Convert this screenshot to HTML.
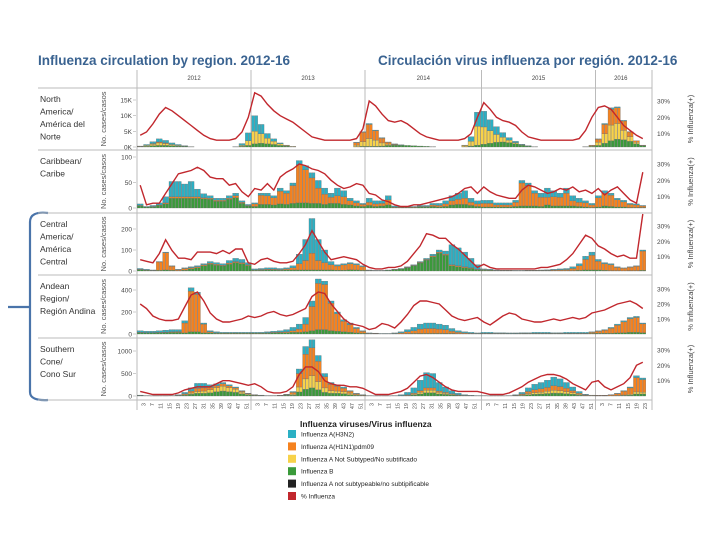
<!DOCTYPE html>
<html><head><meta charset="utf-8">
<style>
html,body{margin:0;padding:0;background:#fff;}
svg{display:block;font-family:"Liberation Sans",sans-serif;}
</style></head>
<body>
<svg id="c" width="720" height="540" viewBox="0 0 720 540">
<text x="38" y="65" font-size="13.5" font-weight="bold" fill="#3a6391">Influenza circulation by region. 2012-16</text>
<text x="378" y="65" font-size="13.5" font-weight="bold" fill="#3a6391">Circulación virus influenza por región. 2012-16</text>
<path d="M48,213 Q30,211 30,222 L30,392 Q30,401 48,400 M30,307 L8,307" fill="none" stroke="#4a74aa" stroke-width="2.2"/>
<g id="grid"></g>
<g id="plots"></g>
<g id="legend">
<text x="300" y="427" font-size="8.5" font-weight="bold" fill="#222">Influenza viruses/Virus influenza</text>
</g>
</svg>
<script>
const categories = ["North America/América del Norte","Caribbean/Caribe","Central America/América Central","Andean Region/Región Andina","Southern Cone/Cono Sur"];
const years = ["2012","2013","2014","2015","2016"];
const weekTicks = [3,7,11,15,19,23,27,31,35,39,43,47,51];

const naH3 = [0.1,0.3,0.6,1.0,0.8,0.5,0.3,0.1,0,0,0,0,0,0,0,0.1,0.6,2.5, 5,3,1.5,0.8,0.3,0.1,0,0,0,0,0,0,0,0,0,0,0.1,0.2, 0.3,0.2,0.2,0.1,0.1,0.1,0,0,0,0,0,0,0,0,0,0.1,1.5,4.5, 5,3.5,2.5,1.5,0.8,0.4,0.2,0.1,0,0,0,0,0,0,0,0,0, 0,0.1,0.3,0.5,0.3,0.2,0.1,0,0];
const naH1 = [0,0,0.2,0.3,0.2,0,0,0,0,0,0,0,0,0,0,0,0,0, 0,0,0,0,0,0,0,0,0,0,0,0,0,0,0,0,0.8,3, 4.5,3,1.5,0.6,0.2,0,0,0,0,0,0,0,0,0,0,0,0,0, 0,0,0,0,0,0,0,0,0,0,0,0,0,0,0,0,0, 0.2,1,3,5,5,3,1.5,0.5,0.1];
const naNS = [0.1,0.3,0.5,0.8,0.6,0.4,0.2,0.1,0,0,0,0,0,0,0,0,0.3,1.5, 4,3,1.8,1,0.5,0.2,0.1,0,0,0,0,0,0,0,0,0,0.5,1.5, 2.5,2,1,0.4,0.1,0,0,0,0,0,0,0,0,0,0,0.4,1.5,6, 5.5,4,2.5,1.5,0.8,0.4,0.1,0,0,0,0,0,0,0,0,0,0, 0.2,1,3,5,5,3,1.5,0.5,0.1];
const naB = [0.1,0.2,0.4,0.5,0.5,0.4,0.3,0.2,0.1,0,0,0,0,0,0,0,0.2,0.5, 1,1.2,1,0.8,0.5,0.3,0.1,0,0,0,0,0,0,0,0,0,0.1,0.2, 0.2,0.2,0.3,0.5,0.6,0.6,0.5,0.4,0.3,0.2,0.1,0,0,0,0,0.1,0.3,0.6, 0.9,1.2,1.5,1.6,1.4,1,0.6,0.3,0.1,0,0,0,0,0,0,0,0.1, 0.2,0.5,1.2,2,2.5,2.3,1.8,1,0.4];
const naPct = [9,11,16,22,26,24,21,18,15,12,9,7,6,6,6,7,11,20, 35,33,28,24,21,19,17,14,11,8,7,6,6,6,6,6,7,13, 30,27,22,18,17,18,16,13,10,8,7,6,6,6,6,7,10,20, 29,25,20,18,17,15,11,8,7,6,6,6,6,6,6,7,12, 20,26,27,25,20,15,12,9,7];

const cbH3 = [3,1,2,4,12,30,30,25,30,15,8,5,4,4,5,5,3,2, 2,4,5,4,6,5,5,8,8,10,15,12,8,15,12,5,4,2, 8,6,5,8,2,1,1,1,2,2,3,4,6,10,12,15,8,6, 6,6,4,4,4,4,5,5,5,8,18,12,8,10,10,8,4, 3,4,5,4,3,3,2,2,1];
const cbH1 = [1,0,1,1,2,3,3,3,3,3,2,2,2,2,2,4,2,1, 5,18,17,14,25,22,35,75,65,50,30,20,12,15,15,8,6,4, 6,5,5,10,1,1,1,1,1,1,3,3,5,8,10,12,6,5, 7,7,4,4,4,8,45,40,25,18,15,18,17,25,10,8,8, 5,18,25,22,14,10,6,5,3];
const cbB = [4,2,2,5,8,19,19,19,19,19,18,17,13,13,17,20,9,4, 3,7,7,6,8,7,9,10,10,9,9,7,9,9,7,6,4,3, 5,3,4,6,1,1,1,1,2,2,3,2,3,6,7,7,5,3, 2,2,2,2,2,3,4,4,4,3,6,4,4,4,4,3,2, 1,2,4,3,2,2,1,1,1];
const cbPct = [17,5,6,6,12,18,24,25,26,28,26,22,21,21,17,18,13,10, 15,14,18,14,22,25,27,30,29,27,26,24,20,17,15,16,18,17, 12,11,8,7,5,4,4,5,5,6,7,8,9,10,12,15,16,12, 16,13,11,10,9,9,14,17,16,14,12,13,15,14,16,13,14, 12,15,11,14,16,12,8,6,25];

const caH3 = [4,3,2,2,3,2,2,3,4,5,5,8,8,7,12,15,15,10, 4,5,6,6,5,5,10,45,100,165,100,60,15,6,6,6,5,4, 2,1,1,1,1,1,2,3,4,5,8,10,15,95,85,70,45,22, 3,3,2,1,1,1,1,1,1,1,2,3,4,5,8,10,15, 15,8,5,5,3,2,2,2,5];
const caH1 = [2,1,1,40,82,20,4,8,6,5,5,5,5,4,6,5,5,4, 2,3,4,4,3,5,10,30,45,80,45,35,25,20,25,28,25,18, 1,1,1,1,1,1,2,2,3,3,4,5,5,5,5,4,3,2, 3,2,1,1,1,1,1,1,1,2,2,3,4,5,10,22,50, 70,42,32,28,15,12,16,21,92];
const caB = [6,4,2,3,5,3,2,4,10,15,25,32,27,24,32,40,35,26, 4,4,5,5,4,5,5,5,5,5,5,5,5,4,4,6,5,3, 2,1,1,3,6,10,16,25,38,52,68,85,75,25,20,16,12,6, 4,3,2,2,2,1,1,2,2,2,2,2,2,2,2,3,5, 5,5,3,2,2,1,2,2,3];
const caPct = [8,7,6,12,21,14,9,9,8,13,13,13,12,14,12,15,15,6, 5,8,9,7,6,6,7,12,18,27,20,13,8,9,10,9,8,5, 3,2,2,3,3,4,7,12,17,25,24,22,22,18,15,11,7,3, 5,3,2,2,2,2,2,2,2,3,3,4,5,8,12,18,24, 22,17,15,12,10,11,9,9,38];

const anH3 = [15,12,12,15,18,20,18,20,30,20,10,10,8,6,6,6,6,6, 6,6,8,10,12,20,30,45,60,50,40,30,20,15,15,15,10,6, 4,3,2,2,5,10,20,30,45,50,50,45,40,25,15,10,8,5, 8,8,6,6,5,5,6,6,8,8,8,6,6,8,8,8,8, 5,5,5,8,10,10,10,10,8];
const anH1 = [3,3,3,3,4,6,8,90,370,340,80,10,4,3,3,3,3,3, 3,3,4,5,6,8,15,30,70,220,420,410,250,160,95,70,40,18, 3,2,1,1,3,8,16,25,40,45,45,40,35,20,12,7,4,3, 3,3,3,3,2,2,3,3,3,3,3,3,3,3,3,3,3, 10,18,28,45,70,98,125,135,80];
const anB = [12,10,10,12,13,14,14,10,20,20,10,10,8,6,6,6,6,6, 6,6,8,10,12,12,15,15,20,30,40,40,30,25,20,15,10,6, 3,3,2,2,2,2,4,5,5,5,5,5,5,5,3,3,3,2, 4,4,3,3,3,3,3,3,4,4,4,3,3,4,4,4,4, 5,7,7,7,10,12,15,15,12];
const anPct = [20,17,12,10,9,9,10,18,26,28,22,14,10,8,8,9,10,12, 11,12,14,15,13,12,13,15,17,25,28,27,20,15,10,7,6,5, 3,4,7,6,4,8,13,19,22,22,21,20,16,12,10,9,10,11, 8,6,9,12,14,13,10,9,8,8,9,10,9,10,11,10,11, 14,15,16,18,20,21,22,20,17];

const scH3 = [5,3,1,1,1,3,10,30,70,110,100,60,40,30,25,20,12,6, 6,4,2,2,3,8,20,100,170,180,130,70,40,30,25,15,8,4, 3,1,1,1,3,20,55,120,230,340,320,190,120,70,35,15,6,4, 3,1,1,1,3,12,35,80,120,140,160,190,170,130,80,40,15, 4,3,3,5,8,12,20,40,35];
const scH1 = [3,2,1,1,1,2,6,20,45,70,70,50,45,50,40,30,20,10, 6,4,2,2,3,10,40,300,550,620,450,250,140,110,80,45,20,8, 2,1,1,1,2,3,8,18,35,50,50,30,20,12,6,3,2,1, 2,1,1,1,2,8,20,45,65,75,85,105,95,75,50,25,10, 10,8,8,16,40,85,140,320,280];
const scNS = [2,1,1,1,1,1,4,10,25,40,50,70,90,110,90,70,40,20, 6,4,2,2,3,8,20,110,230,270,180,100,60,50,45,30,15,8, 1,1,1,1,2,3,8,20,40,60,60,35,25,15,8,5,2,2, 2,1,1,1,2,4,12,25,35,40,50,60,55,45,30,15,6, 2,2,2,4,6,11,20,45,40];
const scB = [10,4,2,2,2,4,10,20,40,60,60,70,95,110,95,80,48,24, 12,8,4,4,6,14,20,90,150,180,140,80,60,60,50,30,17,10, 4,2,2,2,3,4,9,22,45,70,70,45,35,23,11,7,5,3, 3,2,2,2,3,6,13,30,40,45,55,65,60,50,40,20,9, 4,2,2,5,6,12,20,45,45];
const scPct = [3,2,1,1,1,1,2,4,5,6,6,6,8,10,10,9,8,7, 8,6,3,2,2,3,6,14,19,19,16,10,8,7,7,6,6,5, 3,1,1,1,2,3,5,9,13,14,12,9,6,4,3,3,3,3, 2,1,1,1,2,4,6,9,11,13,14,14,13,11,8,6,4, 9,10,6,4,6,8,12,20,22];

const yTicks1 = ["0K","5K","10K","15K"], yTickVals1=[0,5,10,15];
const yTicks2 = ["0","50","100"], yTickVals2=[0,50,100];
const yTicks3 = ["0","100","200"], yTickVals3=[0,100,200];
const yTicks4 = ["0","200","400"], yTickVals4=[0,200,400];
const yTicks5 = ["0","500","1000"], yTickVals5=[0,500,1000];
const pctTicks = [10,20,30];

const NS="http://www.w3.org/2000/svg";
function mk(tag,attrs,parent){const e=document.createElementNS(NS,tag);for(const k in attrs)e.setAttribute(k,attrs[k]);parent.appendChild(e);return e;}
const colH3="#2bb0c4",colH1="#f5821f",colNS="#f7d24a",colB="#3a9a3a",colPct="#c1272d";
const X0=137,X1=646,N=80,bw=(X1-X0)/N;
const yearBounds=[137,251,365,481.5,595.5,646];
function xBin(i){return X0+i*bw;}

const rows=[
 {top:88,bot:150,zero:147,max:15,maxY:100,pz:150,p30:101,ticks:yTicks1,tv:yTickVals1,h3:naH3,h1:naH1,ns:naNS,b:naB,pct:naPct,lab:["North","America/","América del","Norte"],name:"north-america"},
 {top:150,bot:213,zero:208,max:100,maxY:157,pz:213,p30:164,ticks:yTicks2,tv:yTickVals2,h3:cbH3,h1:cbH1,ns:null,b:cbB,pct:cbPct,lab:["Caribbean/","Caribe"],name:"caribbean"},
 {top:213,bot:275,zero:271,max:200,maxY:229,pz:272,p30:226,ticks:yTicks3,tv:yTickVals3,h3:caH3,h1:caH1,ns:null,b:caB,pct:caPct,lab:["Central","America/","América","Central"],name:"central-america"},
 {top:275,bot:338,zero:334,max:400,maxY:290,pz:334,p30:289,ticks:yTicks4,tv:yTickVals4,h3:anH3,h1:anH1,ns:null,b:anB,pct:anPct,lab:["Andean","Region/","Región Andina"],name:"andean"},
 {top:338,bot:400,zero:396,max:1000,maxY:351,pz:396,p30:350,ticks:yTicks5,tv:yTickVals5,h3:scH3,h1:scH1,ns:scNS,b:scB,pct:scPct,lab:["Southern","Cone/","Cono Sur"],name:"southern-cone"}
];

const grid=document.getElementById('grid'), plots=document.getElementById('plots');
years.forEach((y,i)=>{
 const t=mk('text',{x:(yearBounds[i]+yearBounds[i+1])/2,y:80,'font-size':6,'text-anchor':'middle',fill:'#444'},grid);
 t.textContent=y;
 
 
});
mk('line',{x1:38,x2:652,y1:88,y2:88,stroke:'#bbb','stroke-width':1},grid);
rows.forEach(r=>mk('line',{x1:38,x2:652,y1:r.bot,y2:r.bot,stroke:'#bbb','stroke-width':1},grid));
[137,251,365,481.5,595.5,652].forEach(x=>mk('line',{x1:x,x2:x,y1:70,y2:410,stroke:'#bbb','stroke-width':1},grid));

rows.forEach((r,ri)=>{
 const g=mk('g',{},plots);
 
 
 const yv=v=>r.zero-(v/r.max)*(r.zero-r.maxY);
 const yp=p=>r.pz-(p/30)*(r.pz-r.p30);
 const lt=mk('text',{x:40,y:r.top+14,'font-size':8.5,fill:'#333'},g);
 
 
 r.lab.forEach((s,k)=>{const ts=mk('tspan',{x:40,dy:k?12.5:0},lt);ts.textContent=s;});
 const at=mk('text',{x:0,y:0,'font-size':7.5,fill:'#555','text-anchor':'middle',transform:`translate(106,${(r.top+r.bot)/2}) rotate(-90)`},g);
 at.textContent='No. cases/casos';
 
 
 r.tv.forEach((v,k)=>{
  const t=mk('text',{x:132,y:yv(v)+2.5,'font-size':6.5,'text-anchor':'end',fill:'#444'},g);
  t.textContent=r.ticks[k];
  
  
  mk('line',{x1:133,x2:136,y1:yv(v),y2:yv(v),stroke:'#999','stroke-width':0.5},g);
 });
 pctTicks.forEach(p=>{
  const t=mk('text',{x:657,y:yp(p)+2.5,'font-size':6.5,fill:'#444'},g);
  t.textContent=p+'%';
  
  
 });
 const pt=mk('text',{x:0,y:0,'font-size':7.5,fill:'#444','text-anchor':'middle',transform:`translate(693,${(r.top+r.bot)/2}) rotate(-90)`},g);
 pt.textContent='% Influenza(+)';
 
 
 for(let i=0;i<N;i++){
  let acc=0;
  const parts=[[r.b,colB],[r.ns,colNS],[r.h1,colH1],[r.h3,colH3]];
  parts.forEach(([arr,col])=>{
   if(!arr)return;const v=arr[i];if(!v)return;
   const y1=yv(acc),y2=Math.max(r.top+1,yv(acc+v));acc+=v;
   for(let h=0;h<2;h++){
    const rc=mk('rect',{x:xBin(i)+h*bw/2+0.2,y:y2,width:bw/2-0.4,height:Math.max(0,y1-y2),fill:col,stroke:'#6a6a6a','stroke-width':0.3},g);
    
    
   }
  });
 }
 const d=r.pct.map((p,i)=>(i?'L':'M')+(xBin(i)+bw/2).toFixed(1)+','+Math.max(r.top+1,yp(p)).toFixed(1)).join(' ');
 const pl=mk('path',{d:d,fill:'none',stroke:colPct,'stroke-width':1.4},g);
 
 
});
for(let yi=0;yi<5;yi++){
 const x0=yearBounds[yi],w=(yearBounds[1]-yearBounds[0]);
 weekTicks.forEach(wk=>{
  const x=x0+(wk/53)*w;
  if(x>646)return;
  const t=mk('text',{x:0,y:0,'font-size':5.5,fill:'#555','text-anchor':'end',transform:`translate(${x+2},403) rotate(-90)`},grid);
  t.textContent=wk;
  
  
 });
}
const legNames=["Influenza A(H3N2)","Influenza A(H1N1)pdm09","Influenza A Not Subtyped/No subtificado","Influenza B","Influenza A not subtypeable/no subtipificable","% Influenza"];
const legCols=[colH3,colH1,colNS,colB,"#222",colPct];
const lg=document.getElementById('legend');
legNames.forEach((n,i)=>{
 const y=430+i*12.4;
 const r=mk('rect',{x:288,y:y,width:8,height:8,fill:legCols[i]},lg);
 
 
 const t=mk('text',{x:301,y:y+6.5,'font-size':6.5,fill:'#222'},lg);
 t.textContent=n;
 
 
});
</script>
</body></html>
